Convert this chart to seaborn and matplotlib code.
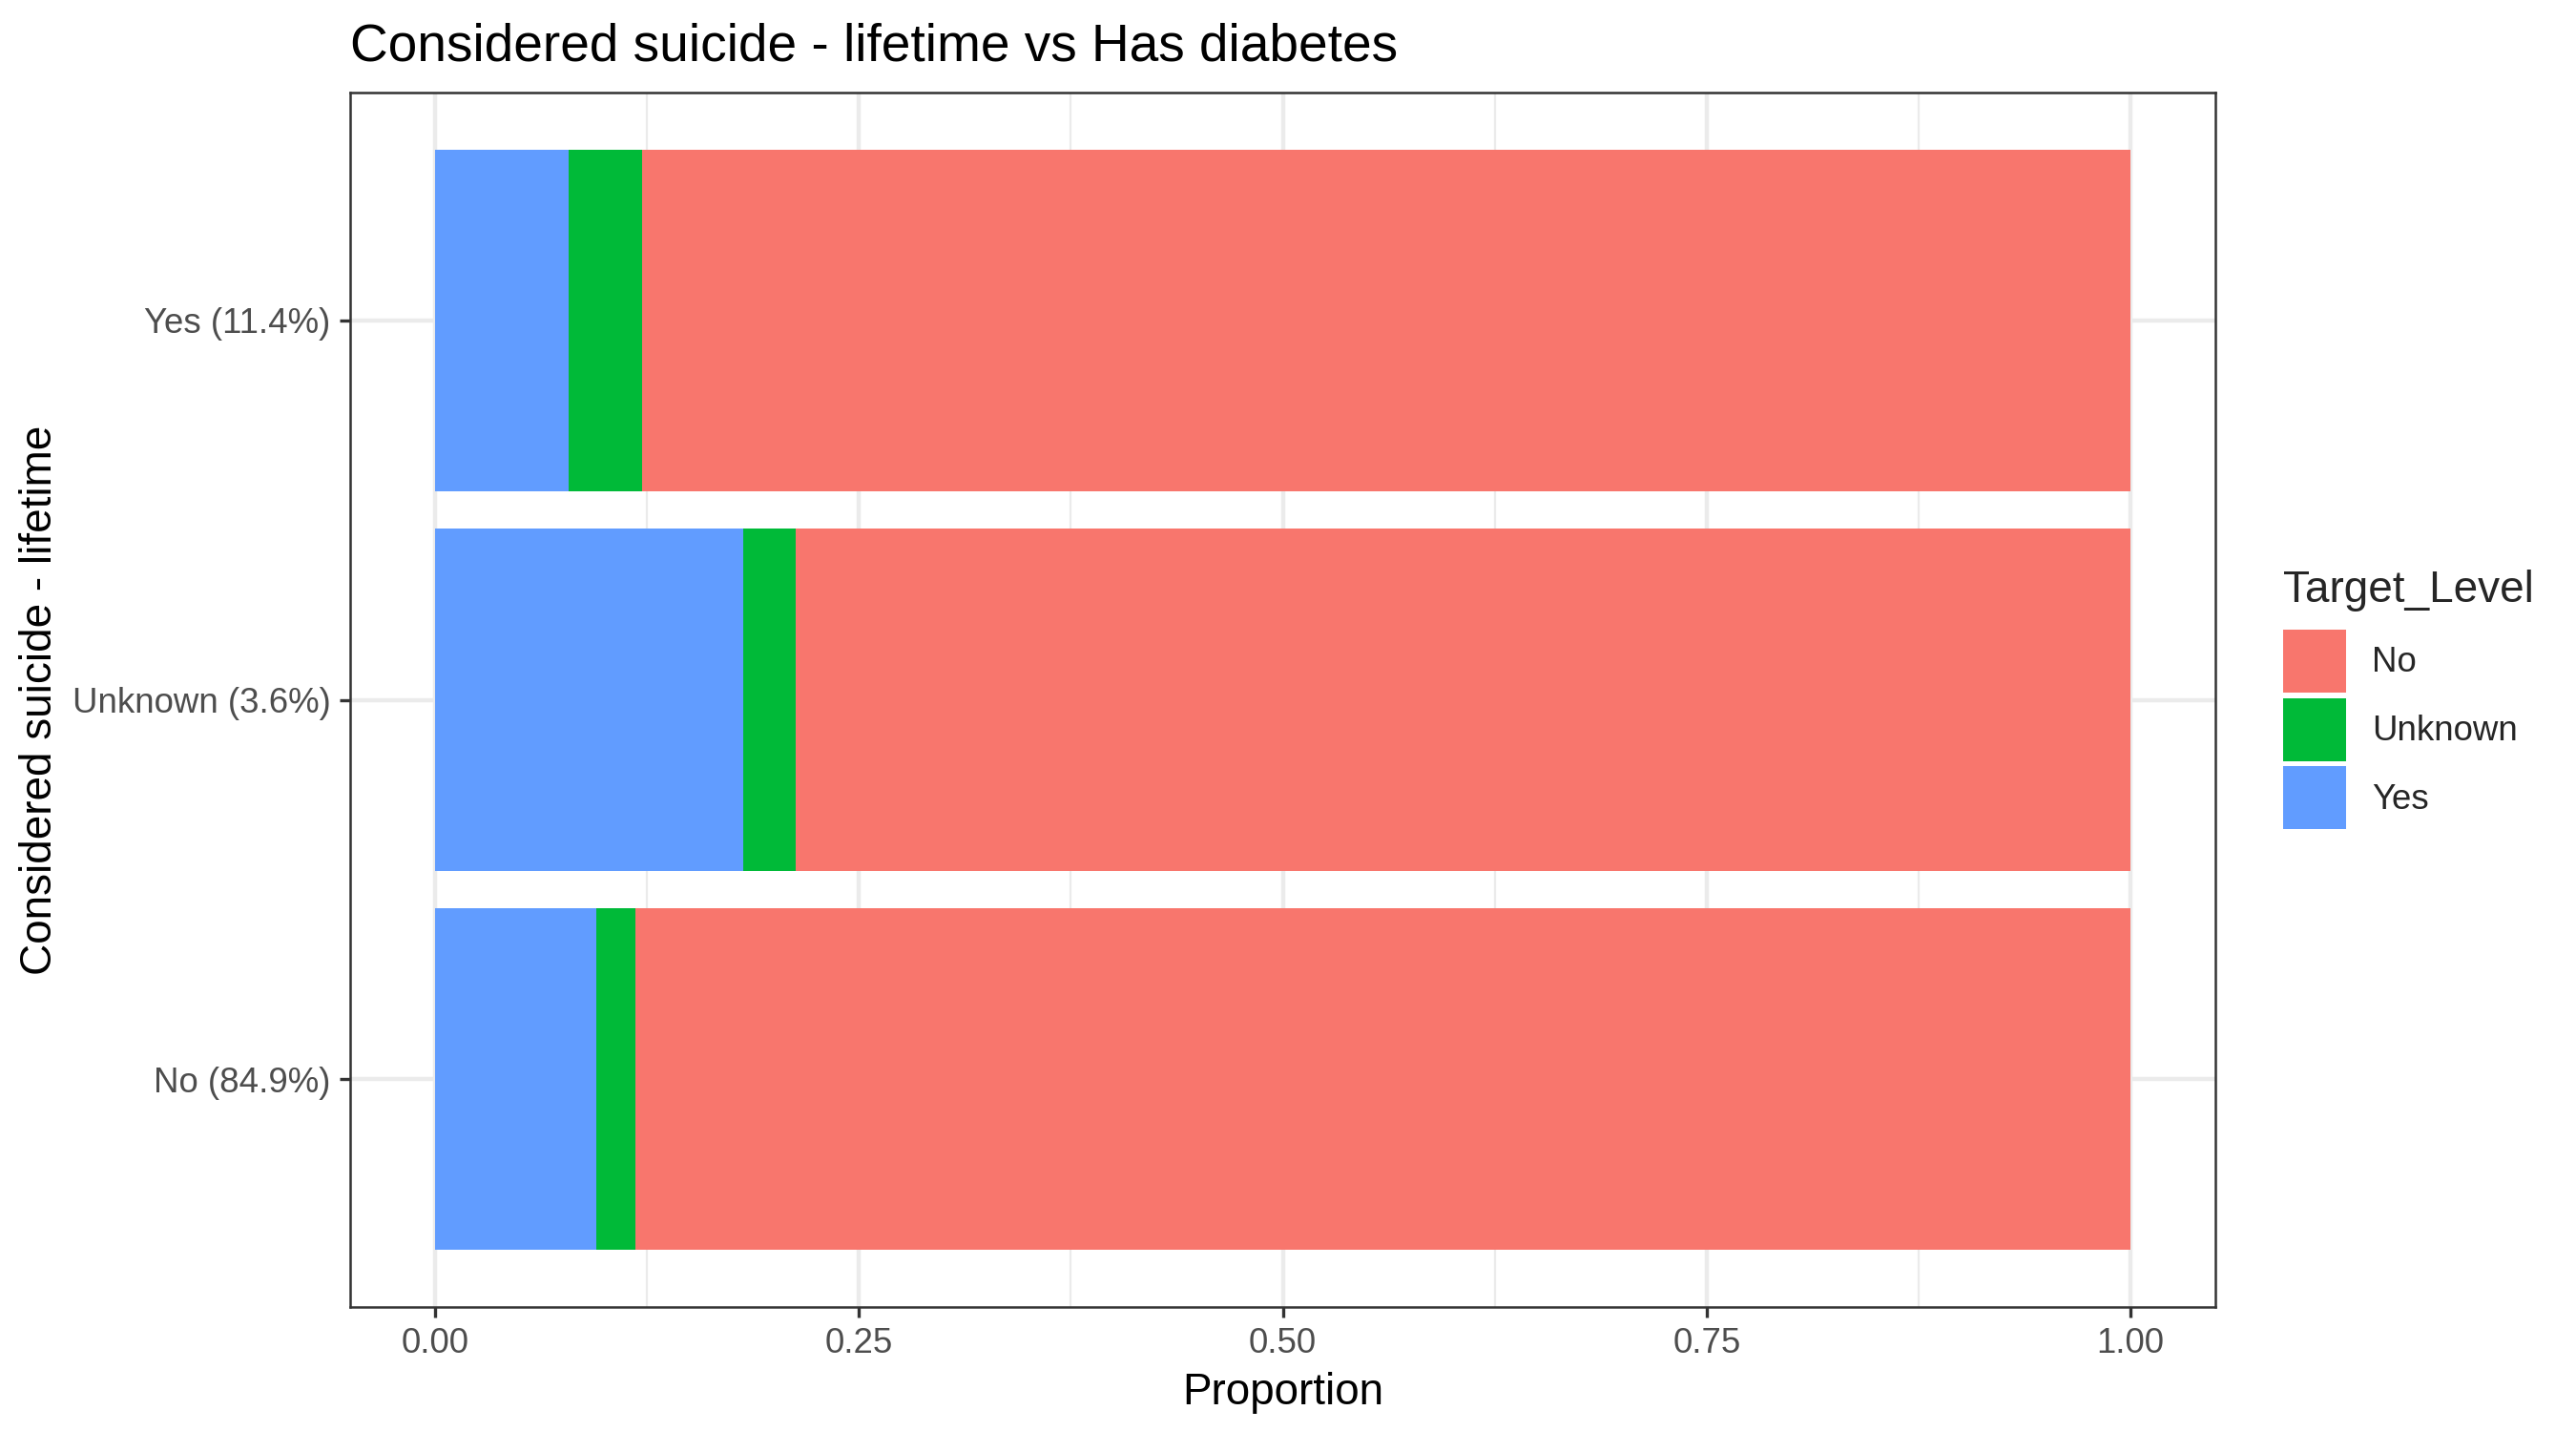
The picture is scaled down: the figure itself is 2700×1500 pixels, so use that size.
import matplotlib
matplotlib.use("Agg")
import matplotlib.pyplot as plt
import seaborn as sns
import numpy as np
import pandas as pd
from matplotlib.patches import Patch

# ---------- dados ----------
categories = ["No (84.9%)", "Unknown (3.6%)", "Yes (11.4%)"]
prop_yes = [0.095, 0.182, 0.079]
prop_unknown = [0.023, 0.031, 0.043]
prop_no = [0.882, 0.787, 0.878]

levels = ["No", "Unknown", "Yes"]
level_colors = ["#F8766D", "#00BA38", "#619CFF"]
x_ticks = [0.0, 0.25, 0.5, 0.75, 1.0]
x_ticklabels = ["0.00", "0.25", "0.50", "0.75", "1.00"]

sns.set_theme(style="white")
plt.rcParams["font.family"] = ["Liberation Sans", "DejaVu Sans"]

df = pd.DataFrame({
    "category": categories,
    "yes": prop_yes,
    "unknown": prop_unknown,
    "no": prop_no,
})
# posições acumuladas (Yes à esquerda, depois Unknown, depois No)
df["cum_yes"] = df["yes"]
df["cum_unknown"] = df["yes"] + df["unknown"]
df["cum_no"] = df["yes"] + df["unknown"] + df["no"]

order = categories[::-1]  # Yes em cima

fig = plt.figure(figsize=(9, 5), dpi=300)
ax = fig.add_axes([367 / 2700, 1 - 1370 / 1500, (2322 - 367) / 2700, (1370 - 97) / 1500])

# camadas sobrepostas, da mais longa para a mais curta
for col, color in [("cum_no", level_colors[0]),
                   ("cum_unknown", level_colors[1]),
                   ("cum_yes", level_colors[2])]:
    sns.barplot(data=df, x=col, y="category", order=order, orient="h",
                color=color, saturation=1, width=0.9, errorbar=None,
                linewidth=0, ax=ax)

ax.set_xlim(-0.05, 1.05)
ax.set_ylim(len(order) - 1 + 0.6, -0.6)

ax.set_xticks(x_ticks)
ax.set_xticklabels(x_ticklabels)
ax.set_xticks([0.125, 0.375, 0.625, 0.875], minor=True)

ax.grid(which="major", color="#EBEBEB", linewidth=1.07)
ax.grid(which="minor", axis="x", color="#EBEBEB", linewidth=0.53)
ax.set_axisbelow(True)

for s in ax.spines.values():
    s.set_visible(True)
    s.set_color("#333333")
    s.set_linewidth(0.6)

ax.tick_params(axis="both", which="major", length=2.75, width=0.8,
               color="#333333", labelcolor="#4D4D4D", labelsize=8.8, pad=2.2,
               left=True, bottom=True)
ax.tick_params(axis="x", which="minor", length=0)

ax.set_xlabel("Proportion", fontsize=11, color="black", labelpad=3)
ax.set_ylabel("Considered suicide - lifetime", fontsize=11, color="black", labelpad=2.8)

fig.text(367 / 2700, 1 - 64 / 1500, "Considered suicide - lifetime vs Has diabetes",
         fontsize=13.2, color="black", ha="left", va="baseline")

# legenda manual com os níveis
handles = [Patch(facecolor=c, edgecolor="none", label=l) for l, c in zip(levels, level_colors)]
leg = fig.legend(handles=handles, title="Target_Level", loc="upper left",
                 bbox_to_anchor=(2393 / 2700, 1 - 597 / 1500), frameon=False,
                 fontsize=8.8, title_fontsize=11, handlelength=1.8, handleheight=2.39,
                 labelspacing=0.16, handletextpad=0.74, borderpad=0, borderaxespad=0,
                 alignment="left")
leg._legend_box.sep = 4.5  # em pontos

fig.savefig("out.png", dpi=300)
